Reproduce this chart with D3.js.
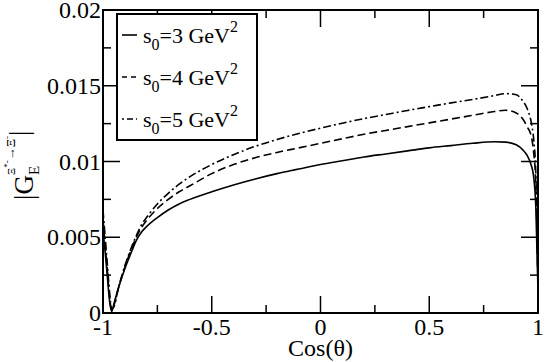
<!DOCTYPE html>
<html>
<head>
<meta charset="utf-8">
<script src="https://cdn.jsdelivr.net/npm/d3@7"></script>
</head>
<body style="margin:0">
<div id="chart"></div>
<script>
// chart size
const width = 545
const height = 362
const margin = { top: 10, right: 7, bottom: 49, left: 103 }
const serif = '"Liberation Serif"'

// data
const cosTheta = [-1, -0.99, -0.98, -0.97, -0.96, -0.95, -0.93, -0.9, -0.87, -0.85, -0.82, -0.8, -0.75, -0.7, -0.65, -0.6, -0.5, -0.4, -0.3, -0.2, -0.1, 0,
    0.1, 0.2, 0.3, 0.4, 0.5, 0.6, 0.7, 0.8, 0.85, 0.9, 0.93, 0.95, 0.97, 0.98, 0.99, 1]
const gS3 = [0.0055, 0.0040, 0.0024, 0.0008, 0.0001, 0.0006, 0.0016, 0.0029, 0.0040, 0.0047, 0.0054, 0.0057, 0.0063, 0.0068, 0.0072, 0.0075, 0.0080, 0.00845, 0.00885, 0.0092, 0.0095, 0.0098,
    0.01005, 0.0103, 0.0105, 0.0107, 0.0109, 0.01105, 0.0112, 0.0113, 0.01128, 0.0111, 0.01077, 0.0104, 0.0097, 0.0090, 0.0070, 0.0015]
const gS4 = [0.0062, 0.0045, 0.0028, 0.0011, 0.0002, 0.0005, 0.0016, 0.0030, 0.0042, 0.0049, 0.0057, 0.0061, 0.0069, 0.0075, 0.0080, 0.0084, 0.0092, 0.0098, 0.01025, 0.0106, 0.0109, 0.0112,
    0.0115, 0.0118, 0.01205, 0.0123, 0.01255, 0.0128, 0.01305, 0.0133, 0.01338, 0.0132, 0.0128, 0.0123, 0.0116, 0.0106, 0.0085, 0.0018]
const gS5 = [0.0068, 0.0050, 0.0032, 0.0014, 0.0003, 0.0004, 0.0016, 0.0031, 0.0043, 0.0050, 0.0059, 0.0063, 0.0072, 0.0079, 0.0085, 0.0090, 0.0098, 0.01045, 0.0110, 0.01145, 0.01185, 0.0122,
    0.01253, 0.01283, 0.0131, 0.01337, 0.01362, 0.01387, 0.0141, 0.01435, 0.01448, 0.0144, 0.0140, 0.0135, 0.0125, 0.0115, 0.0092, 0.0020]

const seriesNames = ["3", "4", "5"]
const dashes = [null, "8,4", "8,3,2,3"]

const xMajor = [-1, -0.5, 0, 0.5, 1]
const xMinor = [-0.75, -0.25, 0.25, 0.75]
const yMajor = [0, 0.005, 0.01, 0.015, 0.02]
const yMinor = [0.0025, 0.0075, 0.0125, 0.0175]

const svg = d3.select("#chart")
    .append("svg")
    .attr("width", width)
    .attr("height", height)
    .style("background", "white")

const x = d3.scaleLinear().domain([-1, 1]).range([margin.left, width - margin.right])
const y = d3.scaleLinear().domain([0, 0.02]).range([height - margin.bottom, margin.top])

svg.append("clipPath").attr("id", "plotClip")
    .append("rect")
    .attr("x", x(-1)).attr("y", y(0.02))
    .attr("width", x(1) - x(-1)).attr("height", y(0) - y(0.02))

// curves
const series = [gS3, gS4, gS5]
const line = d3.line()
    .x((d, i) => x(cosTheta[i]))
    .y(d => y(d))
    .curve(d3.curveMonotoneX)

svg.append("g")
    .attr("clip-path", "url(#plotClip)")
    .selectAll("path")
    .data(series)
    .join("path")
    .attr("d", d => line(d))
    .attr("fill", "none")
    .attr("stroke", "black")
    .attr("stroke-width", 1.6)
    .attr("stroke-dasharray", (d, i) => dashes[i])

// ticks on all four sides, pointing in
const ticks = svg.append("g").attr("stroke", "black").attr("stroke-width", 1.5)
const majorLen = 17, minorLen = 8
xMajor.concat(xMinor).forEach(v => {
    const len = xMajor.includes(v) ? majorLen : minorLen
    ticks.append("line").attr("x1", x(v)).attr("x2", x(v)).attr("y1", y(0)).attr("y2", y(0) - len)
    ticks.append("line").attr("x1", x(v)).attr("x2", x(v)).attr("y1", y(0.02)).attr("y2", y(0.02) + len)
})
yMajor.concat(yMinor).forEach(v => {
    const len = yMajor.includes(v) ? majorLen : minorLen
    ticks.append("line").attr("x1", x(-1)).attr("x2", x(-1) + len).attr("y1", y(v)).attr("y2", y(v))
    ticks.append("line").attr("x1", x(1)).attr("x2", x(1) - len).attr("y1", y(v)).attr("y2", y(v))
})

// frame
svg.append("rect")
    .attr("x", x(-1)).attr("y", y(0.02))
    .attr("width", x(1) - x(-1)).attr("height", y(0) - y(0.02))
    .attr("fill", "none").attr("stroke", "black").attr("stroke-width", 2)

// tick labels
svg.append("g").selectAll("text")
    .data(xMajor)
    .join("text")
    .attr("x", d => x(d))
    .attr("y", y(0) + 22)
    .attr("text-anchor", "middle")
    .style("font-family", serif)
    .style("font-size", "24px")
    .text(d => String(d))

svg.append("g").selectAll("text")
    .data(yMajor)
    .join("text")
    .attr("x", x(-1) - 2)
    .attr("y", d => y(d) + 8)
    .attr("text-anchor", "end")
    .style("font-family", serif)
    .style("font-size", "24px")
    .text(d => String(d))

// x axis title
svg.append("text")
    .attr("x", x(0))
    .attr("y", 356)
    .attr("text-anchor", "middle")
    .style("font-family", serif)
    .style("font-size", "24px")
    .text("Cos(θ)")

// y axis title |G_E^{Ξ*-→Ξ-}|
const yTitle = svg.append("text")
    .attr("transform", "translate(33,200) rotate(-90)")
    .style("font-family", serif)
    .style("font-size", "27px")
yTitle.append("tspan").text("|G")
yTitle.append("tspan").attr("dy", 6).style("font-size", "15px").text("E")
yTitle.append("tspan").attr("dx", -9).attr("dy", -24).style("font-size", "11px").text("Ξ")
yTitle.append("tspan").attr("dy", -5).style("font-size", "9px").text("*-")
yTitle.append("tspan").attr("dy", 5).style("font-size", "13px").text("→Ξ")
yTitle.append("tspan").attr("dy", -5).style("font-size", "9px").text("-")
yTitle.append("tspan").attr("dy", 18).text("|")

// legend
const legend = svg.append("g")
legend.append("rect")
    .attr("x", 117).attr("y", 14).attr("width", 140).attr("height", 126)
    .attr("fill", "white").attr("stroke", "black").attr("stroke-width", 2)

seriesNames.forEach((name, i) => {
    const cy = 35 + i * 42
    legend.append("line")
        .attr("x1", 122).attr("x2", 137).attr("y1", cy).attr("y2", cy)
        .attr("stroke", "black").attr("stroke-width", 1.6)
        .attr("stroke-dasharray", dashes[i] === "8,4" ? "5,4" : (dashes[i] ? "2,3,6,3" : null))
    const t = legend.append("text")
        .attr("x", 143).attr("y", cy + 8)
        .style("font-family", serif)
        .style("font-size", "22px")
    t.append("tspan").text("s")
    t.append("tspan").attr("dy", 7).style("font-size", "16px").text("0")
    t.append("tspan").attr("dy", -7).text("=" + name + " GeV")
    t.append("tspan").attr("dy", -11).style("font-size", "16px").text("2")
})
</script>
</body>
</html>
